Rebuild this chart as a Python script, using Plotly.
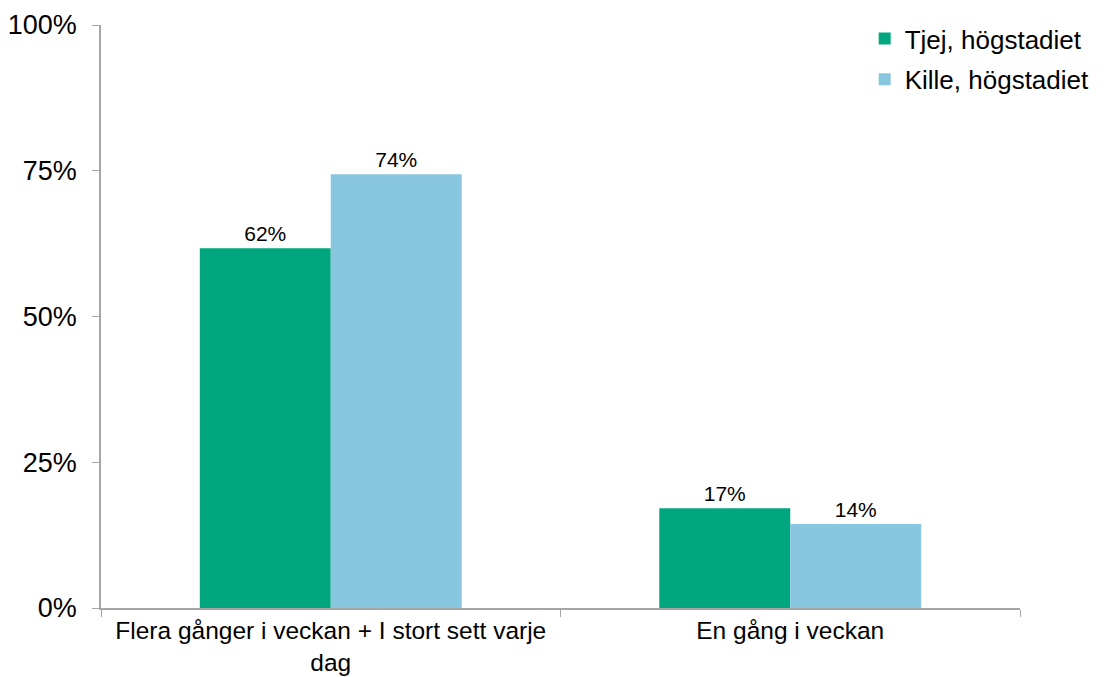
import plotly.graph_objects as go

categories = ["Flera gånger i veckan + I stort sett varje<br>dag", "En gång i veckan"]
series_names = ["Tjej, högstadiet", "Kille, högstadiet"]
tjej = [0.617, 0.171]
kille = [0.744, 0.144]
colors = ["#00A77E", "#89C7E0"]
y_ticks = [0, 0.25, 0.5, 0.75, 1.0]
y_tick_labels = ["0%", "25%", "50%", "75%", "100%"]

fig = go.Figure()
for name, vals, col, grp in zip(series_names, [tjej, kille], colors, ["a", "b"]):
    fig.add_trace(go.Bar(
        x=categories, y=vals, name=name, marker=dict(color=col, line=dict(width=0)),
        text=[f"{round(v*100)}%" for v in vals], textposition="outside",
        textfont=dict(size=21, color="black", family="Liberation Sans, Arial"),
        cliponaxis=False, legendgroup=grp,
    ))

fig.update_layout(
    width=1098, height=669,
    margin=dict(l=93, r=86, t=17, b=69, autoexpand=False),
    paper_bgcolor="white", plot_bgcolor="white",
    barmode="group", bargap=0.43, bargroupgap=0,
    font=dict(family="Liberation Sans, Arial", color="black"),
    legend=dict(x=0.831, y=1.017, xanchor="left", yanchor="top",
                font=dict(size=26, color="black"), tracegroupgap=4,
                traceorder="grouped", bgcolor="rgba(0,0,0,0)"),
    xaxis=dict(showline=True, linecolor="#A6A6A6", linewidth=1.5,
               ticks="outside", tickson="boundaries", ticklen=7, tickcolor="#A6A6A6",
               tickfont=dict(size=24.5, color="black"), showgrid=False),
    yaxis=dict(range=[0, 1], tickvals=y_ticks, ticktext=y_tick_labels,
               showline=True, linecolor="#A6A6A6", linewidth=1.5,
               ticks="outside", ticklen=7, tickcolor="#A6A6A6", ticklabelstandoff=10,
               tickfont=dict(size=27, color="black"), showgrid=False, zeroline=False),
)
fig.write_html("out.html")
